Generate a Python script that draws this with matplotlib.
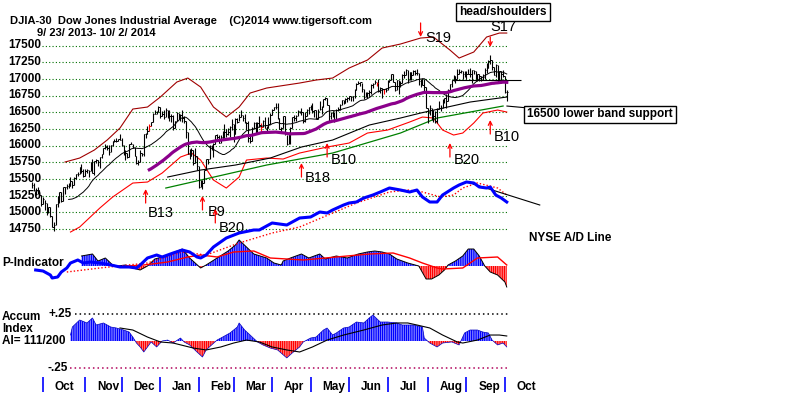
import numpy as np
import pandas as pd
import matplotlib
matplotlib.use("Agg")
import matplotlib.pyplot as plt
from matplotlib import transforms

plt.rcParams['font.family'] = ['Liberation Sans', 'DejaVu Sans']
plt.rcParams['hatch.linewidth'] = 1.0

# ---------------------------------------------------------------------
#  DATA (DJIA 9/23/2013 - 10/2/2014)
# ---------------------------------------------------------------------
holidays = ["2013-11-28", "2013-12-25", "2014-01-01", "2014-01-20", "2014-02-17",
            "2014-04-18", "2014-05-26", "2014-07-04", "2014-09-01"]

closes = [
    15401, 15334, 15273, 15328, 15258, 15130,
    15192, 15133, 14997, 15073, 14936, 14776, 14803, 15127, 15237, 15301, 15168, 15374,
    15372, 15399, 15392, 15468, 15413, 15509, 15570, 15568, 15680, 15618, 15546,
    15615, 15639, 15618, 15746, 15594, 15762, 15784, 15751, 15821, 15876, 15962, 15976,
    15967, 15900, 16010, 16065, 16073, 16073, 16097, 16086,
    16008, 15915, 15889, 15822, 16020, 16025, 15973, 15844, 15740, 15755, 15885, 15875,
    16168, 16179, 16221, 16295, 16358, 16479, 16478, 16505, 16577,
    16441, 16470, 16426, 16531, 16463, 16445, 16437, 16257, 16374, 16482, 16418, 16459,
    16415, 16374, 16198, 15880, 15838, 15929, 15739, 15849, 15699,
    15373, 15445, 15441, 15629, 15795, 15802, 15994, 15964, 16027, 16154, 16130, 16040,
    16134, 16104, 16208, 16180, 16198, 16273, 16322,
    16168, 16396, 16360, 16422, 16453, 16419, 16351, 16341, 16109, 16066, 16248, 16337,
    16223, 16332, 16303, 16276, 16368, 16268, 16264, 16323, 16458,
    16533, 16573, 16573, 16413, 16246, 16256, 16438, 16171, 16027, 16174, 16263, 16425,
    16409, 16449, 16514, 16502, 16501, 16361, 16448, 16535, 16581,
    16559, 16513, 16531, 16402, 16518, 16551, 16583, 16695, 16715, 16614, 16447, 16491,
    16511, 16374, 16533, 16543, 16606, 16676, 16634, 16699, 16717,
    16744, 16722, 16738, 16836, 16925, 16944, 16946, 16843, 16734, 16776, 16782, 16808,
    16907, 16921, 16947, 16938, 16819, 16868, 16847, 16852, 16827,
    16957, 16977, 17068, 16957, 16839, 16986, 16915, 16944, 17056, 17060, 17138, 16977,
    17100, 17052, 17114, 17087, 17084, 16961, 16983, 16912, 16881, 16563,
    16493, 16569, 16430, 16443, 16369, 16554, 16570, 16561, 16652, 16714, 16663, 16839,
    16920, 16980, 17039, 17001, 17077, 17107, 17122, 17080, 17098,
    17068, 17079, 17069, 17138, 17112, 17014, 17068, 17050, 16988, 17031, 17132, 17157,
    17266, 17280, 17173, 17056, 17211, 16946, 17113, 17071, 17043,
    16805, 16801,
]

highs = [
    15452, 15441, 15366, 15385, 15327, 15258,
    15225, 15190, 15134, 15084, 15072, 14937, 14846, 15127, 15242, 15305, 15301, 15374,
    15377, 15418, 15436, 15527, 15466, 15524, 15578, 15597, 15681, 15721, 15647,
    15653, 15651, 15631, 15748, 15797, 15764, 15791, 15783, 15822, 15877, 15965, 16030,
    16005, 16006, 16015, 16065, 16093, 16114, 16104, 16175,
    16117, 16008, 15934, 15890, 16030, 16057, 16024, 15978, 15844, 15789, 15935, 15892,
    16168, 16192, 16292, 16318, 16358, 16484, 16529, 16512, 16588,
    16573, 16519, 16533, 16562, 16529, 16530, 16480, 16453, 16374, 16497, 16482, 16479,
    16530, 16438, 16372, 16197, 15950, 15963, 15928, 15958, 15848,
    15698, 15481, 15478, 15630, 15799, 15805, 16008, 16011, 16031, 16162, 16175, 16158,
    16163, 16218, 16317, 16242, 16266, 16287, 16398,
    16321, 16406, 16408, 16475, 16534, 16452, 16472, 16350, 16369, 16161, 16274, 16349,
    16360, 16354, 16448, 16332, 16387, 16433, 16291, 16433, 16495,
    16541, 16575, 16631, 16632, 16412, 16275, 16439, 16438, 16165, 16197, 16279, 16425,
    16453, 16451, 16537, 16522, 16558, 16501, 16507, 16546, 16581,
    16601, 16632, 16531, 16530, 16546, 16661, 16596, 16700, 16735, 16711, 16613, 16497,
    16519, 16508, 16543, 16581, 16616, 16676, 16681, 16716, 16723,
    16745, 16744, 16750, 16845, 16938, 16970, 16950, 16945, 16843, 16800, 16808, 16827,
    16921, 16937, 16979, 16947, 17000, 16885, 16870, 16852, 16867,
    16984, 16989, 17074, 17067, 16956, 16990, 16985, 16961, 17075, 17112, 17145, 17138,
    17107, 17100, 17139, 17128, 17151, 17082, 17000, 17012, 17001, 16880,
    16562, 16604, 16570, 16529, 16514, 16569, 16662, 16615, 16698, 16718, 16773, 16841,
    16930, 16986, 17051, 17039, 17154, 17153, 17135, 17122, 17114,
    17112, 17152, 17161, 17138, 17138, 17111, 17073, 17068, 17050, 17070, 17167, 17236,
    17277, 17351, 17280, 17172, 17222, 17210, 17113, 17112, 17132,
    17042, 16835,
]

lows = [
    15363, 15316, 15256, 15273, 15227, 15088,
    15130, 15040, 14951, 14986, 14929, 14772, 14719, 14804, 15071, 15133, 15151, 15169,
    15274, 15353, 15364, 15387, 15357, 15413, 15491, 15543, 15567, 15585, 15524,
    15546, 15585, 15533, 15618, 15592, 15565, 15739, 15690, 15668, 15815, 15873, 15948,
    15930, 15863, 15901, 15987, 16050, 16051, 16063, 16083,
    15988, 15855, 15784, 15810, 15822, 16019, 15962, 15839, 15729, 15703, 15756, 15838,
    15840, 16117, 16179, 16222, 16295, 16358, 16477, 16466, 16504,
    16409, 16440, 16405, 16426, 16416, 16375, 16357, 16240, 16258, 16375, 16394, 16364,
    16352, 16341, 16108, 15879, 15795, 15838, 15707, 15738, 15633,
    15356, 15373, 15341, 15443, 15630, 15730, 15802, 15936, 15830, 16027, 16076, 16034,
    16039, 16100, 16103, 16133, 16161, 16128, 16232,
    16050, 16169, 16341, 16361, 16422, 16365, 16337, 16235, 16060, 16040, 16067, 16248,
    16175, 16193, 16283, 16182, 16277, 16265, 16186, 16265, 16323,
    16459, 16534, 16541, 16403, 16246, 16190, 16256, 16156, 16015, 16027, 16018, 16265,
    16366, 16373, 16450, 16487, 16460, 16331, 16353, 16449, 16473,
    16531, 16481, 16421, 16400, 16402, 16528, 16473, 16583, 16676, 16614, 16372, 16403,
    16426, 16353, 16375, 16512, 16540, 16606, 16624, 16634, 16650,
    16683, 16665, 16674, 16714, 16837, 16919, 16889, 16806, 16700, 16727, 16720, 16747,
    16779, 16865, 16917, 16892, 16809, 16782, 16714, 16779, 16800,
    16828, 16949, 16977, 16955, 16816, 16840, 16776, 16875, 16944, 17011, 17060, 16945,
    16977, 16989, 17052, 17064, 17065, 16913, 16883, 16911, 16810, 16557,
    16334, 16462, 16382, 16354, 16333, 16333, 16554, 16519, 16561, 16633, 16563, 16663,
    16839, 16875, 16975, 16941, 17001, 17077, 17094, 16995, 17033,
    16999, 17068, 17031, 16944, 17075, 17003, 16965, 16974, 16967, 16987, 17003, 17089,
    17157, 17227, 17135, 17055, 17021, 16938, 16946, 16945, 17021,
    16784, 16674,
]

red_bar_idx = [64, 125, 188, 192]

# overlay lines on the price panel: (trading-day index, price)
upper_band_idx = [18, 26, 34, 41, 48, 55, 63, 70, 79, 85, 92, 99, 106, 113, 119, 128, 146,
                  155, 164, 173, 183, 191, 201, 212, 219, 228, 233, 241, 248, 255, 259]
upper_band = [15752, 15812, 15932, 16082, 16262, 16547, 16577, 16727, 16952, 17012, 16877,
              16577, 16427, 16577, 16787, 16862, 16937, 16982, 17012, 17162, 17282, 17462,
              17522, 17612, 17627, 17432, 17312, 17402, 17627, 17687, 17687]
lower_band_idx = [21, 26, 37, 44, 55, 63, 71, 81, 87, 92, 99, 106, 113, 117, 128, 137, 146,
                  161, 173, 183, 194, 206, 213, 219, 224, 230, 235, 241, 246, 254, 259]
lower_band = [14702, 14777, 15062, 15227, 15437, 15452, 15587, 15827, 15887, 15782, 15482,
              15362, 15527, 15782, 15812, 15797, 15887, 15977, 16037, 16187, 16232, 16352,
              16427, 16412, 16232, 16157, 16187, 16337, 16487, 16532, 16502]
support_idx = [74, 92, 111, 130, 147, 164, 184, 201, 212, 239, 259]
support_line = [15527, 15632, 15707, 15812, 15977, 16082, 16307, 16412, 16487, 16652, 16727]
green_idx = [73, 128, 164, 201, 221, 257]
green_line = [15362, 15707, 15887, 16187, 16412, 16592]
neckline = (229, 267, 16980)

price_levels = [17500, 17250, 17000, 16750, 16500, 16250, 16000, 15750, 15500, 15250, 15000, 14750]

sig_names = ["B13", "B9", "B20", "B18", "B10", "B20", "B10", "S19", "S17"]
sig_idx = [62, 93, 100, 147, 161, 228, 250, 212, 250]
sig_price = [15347, 15243, 15048, 15737, 16037, 16037, 16382, 17628, 17478]

# NYSE A/D line and its moving average (relative units)
ad_idx = [2, 6, 10, 11, 14, 16, 19, 21, 25, 28, 32, 37, 43, 48, 53, 57, 59, 63, 68, 71, 77,
          82, 86, 90, 92, 95, 99, 106, 113, 121, 124, 131, 139, 142, 146, 152, 157, 161, 164,
          170, 173, 177, 181, 186, 190, 195, 201, 206, 210, 213, 217, 221, 224, 230, 233,
          237, 241, 244, 248, 250, 253, 256, 259]
ad_line = [4, 2, -6, -12, -10, 0, 8, 18, 24, 18, 20, 18, 14, 10, 10, 8, 14, 28, 34, 30, 38,
           44, 40, 30, 28, 34, 50, 68, 78, 84, 84, 98, 94, 100, 108, 110, 120, 118, 124,
           134, 138, 140, 148, 154, 160, 168, 164, 160, 164, 150, 140, 140, 154, 168, 174,
           180, 178, 170, 168, 170, 154, 148, 140]
ad_ma_idx = [19, 37, 63, 82, 95, 113, 131, 146, 159, 177, 195, 205, 213, 223, 230, 235, 243, 254, 259]
ad_ma = [0, 8, 18, 40, 34, 58, 78, 90, 110, 138, 160, 164, 160, 150, 154, 168, 178, 168, 154]
ad_trend = ([239, 277], [178, 134])

# P-Indicator and its moving average
pind_idx = [27, 30, 33, 36, 40, 44, 47, 51, 55, 59, 63, 67, 73, 78, 82, 86, 92, 95, 101, 107,
            111, 113, 117, 121, 128, 132, 136, 137, 141, 147, 151, 157, 160, 166, 172, 178,
            183, 187, 191, 195, 199, 205, 211, 215, 218, 222, 225, 227, 231, 235, 238, 241,
            244, 247, 250, 254, 258, 259]
pind = [120, 132, 144, 60, 96, 12, 0, 12, -24, -48, 0, 84, 120, 168, 204, 96, -24, 12, 96,
        180, 252, 312, 228, 144, 96, 36, 12, 60, 96, 144, 96, 144, 84, 120, 96, 144, 168, 180,
        168, 144, 84, 36, 0, -156, -156, -108, -48, 12, 60, 120, 204, 204, 120, 0, -72, -108,
        -192, -252]
pind_ma_idx = [52, 61, 74, 85, 92, 101, 110, 121, 130, 148, 166, 184, 197, 206, 213, 221,
               224, 235, 243, 254, 259]
pind_ma = [0, 12, 48, 108, 132, 108, 168, 180, 96, 72, 108, 144, 156, 96, 36, -24, -36, -24,
           96, 108, 12]

# Accumulation Index and its moving average
ai_idx = [21, 22, 26, 30, 33, 35, 39, 43, 46, 50, 53, 55, 57, 59, 61, 63, 65, 68, 71, 74, 77,
          81, 83, 86, 90, 93, 95, 98, 101, 104, 108, 112, 113, 116, 119, 123, 126, 130, 134,
          139, 142, 146, 148, 152, 155, 159, 161, 164, 166, 170, 173, 177, 181, 184, 186, 190,
          194, 199, 202, 208, 213, 214, 217, 221, 224, 229, 233, 236, 239, 243, 246, 249, 251,
          254, 257, 259]
ai = [0.056, 0.131, 0.197, 0.169, 0.216, 0.150, 0.169, 0.131, 0.122, 0.103, 0.084, 0.037,
      -0.019, -0.056, -0.103, -0.056, -0.009, -0.056, 0.0, 0.009, -0.019, 0.028, -0.009,
      -0.037, -0.103, -0.150, -0.084, -0.037, 0.009, 0.037, 0.075, 0.131, 0.169, 0.103, 0.056,
      -0.009, -0.037, -0.066, -0.084, -0.159, -0.112, -0.056, -0.009, 0.028, 0.037, 0.103,
      0.122, 0.056, 0.075, 0.122, 0.131, 0.178, 0.169, 0.216, 0.244, 0.178, 0.178, 0.169,
      0.150, 0.150, 0.131, 0.028, -0.019, -0.056, -0.019, -0.009, -0.037, 0.075, 0.103, 0.103,
      0.084, 0.075, 0.009, -0.037, -0.019, -0.056]
ai_ma_idx = [48, 55, 63, 70, 77, 88, 95, 103, 110, 117, 124, 131, 139, 146, 153, 161, 170,
             181, 191, 199, 205, 210, 217, 224, 232, 235, 243, 250, 255, 259]
ai_ma = [0.122, 0.103, 0.037, -0.009, -0.019, -0.066, -0.084, -0.056, -0.019, 0.009, -0.009,
         -0.056, -0.084, -0.103, -0.056, 0.009, 0.056, 0.103, 0.150, 0.169, 0.169, 0.150,
         0.122, 0.056, -0.009, -0.019, 0.009, 0.056, 0.056, 0.047]

# ---------------------------------------------------------------------
#  LAYOUT (pixel geometry of the 800x395 TigerSoft image)
# ---------------------------------------------------------------------
W, H = 800, 395
PX_DAY = 1.833            # pixels per trading day
X_OCT1 = 43.0             # pixel of first October trading day (index 6)
IDX_L = 6 - X_OCT1 / PX_DAY
IDX_R = IDX_L + W / PX_DAY


def idx_at(px):
    return IDX_L + px / PX_DAY


def yl(top_val, per_px):
    # value at pixel row 0 and value change per pixel -> ylim
    return (top_val - H * per_px, top_val)


dates = pd.bdate_range("2013-09-23", "2014-10-02", freq="C", holidays=holidays)
n = len(dates)
assert n == len(closes) == len(highs) == len(lows)
days = np.arange(n)
month_starts = [i for i in range(1, n) if dates[i].month != dates[i - 1].month]

fig = plt.figure(figsize=(8, 3.95), dpi=100)
fig.patch.set_facecolor("white")


def overlay(ylim):
    a = fig.add_axes([0, 0, 1, 1])
    a.set_xlim(IDX_L, IDX_R)
    a.set_ylim(*ylim)
    a.axis("off")
    a.patch.set_alpha(0)
    return a


ax = overlay(yl(17500 + 45.5 * 15, 15))              # price, 15 pts per pixel
ax_pi = overlay(yl(266 * 12, 12))                     # P-Indicator
ax_ai = overlay(yl(341 / 106.67, 1 / 106.67))         # Accum Index
ax_ad = overlay(yl(272 * 2, 2))                       # A/D line

bold = dict(fontweight="bold", fontsize=8.5, color="black")

# ---- price panel ----
ax.hlines(price_levels, idx_at(42), idx_at(508), colors="#007000",
          linestyles=(0, (1, 2)), lw=0.8)
for lvl in price_levels:
    ax.text(idx_at(41), lvl, str(lvl), ha="right", va="center", **bold)

bar_colors = ["red" if i in red_bar_idx else "black" for i in days]
ax.vlines(days, lows, highs, colors=bar_colors, lw=0.8, zorder=3)
ax.hlines(closes, days, days + 0.8, colors=bar_colors, lw=0.7, zorder=3)

close_s = pd.Series(closes, dtype=float)
ax.plot(days, close_s.rolling(21).mean(), color="black", lw=0.7, zorder=4)
ax.plot(days, close_s.rolling(65).mean(), color="#8b008b", lw=2.3, zorder=4)
ax.plot(upper_band_idx, upper_band, color="#a00000", lw=0.8)
ax.plot(lower_band_idx, lower_band, color="#ff0000", lw=0.8)
ax.plot(support_idx, support_line, color="black", lw=0.8)
ax.plot(green_idx, green_line, color="#008000", lw=0.9)
ax.hlines(neckline[2], neckline[0], neckline[1], colors="black", lw=0.8)

# buy / sell signal arrows
label_off = {0: (15, 24), 1: (14, 16), 2: (17, 19), 3: (16, 15), 4: (17, 17),
             5: (17, 17), 6: (17, 17), 7: (18, 1), 8: (13, -20)}
for k, (name, i, p) in enumerate(zip(sig_names, sig_idx, sig_price)):
    up = name.startswith("B")
    length = 14 if up else (14 if name == "S19" else 10)
    tail = -length if up else length
    ax.annotate("", xy=(i, p), xytext=(0, tail * 0.72), textcoords="offset points",
                arrowprops=dict(arrowstyle="->", color="red", lw=0.9,
                                shrinkA=0, shrinkB=0, mutation_scale=7))
    dx, dy = label_off[k]
    ax.annotate(name, xy=(i, p), xytext=(dx * 0.72, -dy * 0.72), textcoords="offset points",
                ha="center", va="center", fontsize=10.5, color="black")

# ---- A/D line ----
ax_ad.plot(ad_ma_idx, ad_ma, color="red", lw=1.0, linestyle=(0, (1, 1.5)))
ax_ad.plot(ad_trend[0], ad_trend[1], color="black", lw=0.8)
ax_ad.plot(ad_idx, ad_line, color="#0000ff", lw=2.2, solid_joinstyle="round")

# ---- P-Indicator ----
pi_x = np.array(pind_idx, dtype=float)
pi_v = np.array(pind, dtype=float)
ax_pi.fill_between(pi_x, 0, pi_v, where=pi_v >= 0, interpolate=True, facecolor="none",
                   edgecolor="#0000ff", hatch="|||||||||", lw=0)
ax_pi.fill_between(pi_x, 0, pi_v, where=pi_v <= 0, interpolate=True, facecolor="none",
                   edgecolor="#ff0000", hatch="|||||||||", lw=0)
ax_pi.plot(pi_x, pi_v, color="black", lw=0.7)
ax_pi.plot(pind_ma_idx, pind_ma, color="red", lw=1.0)

# ---- Accumulation Index ----
ai_x = np.array(ai_idx, dtype=float)
ai_v = np.array(ai, dtype=float)
ax_ai.hlines(0.25, idx_at(75), idx_at(510), colors="black", linestyles=(0, (1, 2)), lw=1.1)
ax_ai.hlines(-0.25, idx_at(70), idx_at(510), colors="#b0005a", linestyles=(0, (1, 2)), lw=1.1)
ax_ai.fill_between(ai_x, 0, ai_v, where=ai_v >= 0, interpolate=True, facecolor="none",
                   edgecolor="#0000ff", hatch="|||||||||", lw=0)
ax_ai.fill_between(ai_x, 0, ai_v, where=ai_v <= 0, interpolate=True, facecolor="none",
                   edgecolor="#ff0000", hatch="|||||||||", lw=0)
ax_ai.plot(ai_x, ai_v, color="#0000c0", lw=0.5)
ax_ai.plot(ai_ma_idx, ai_ma, color="black", lw=0.8)
ax_ai.text(idx_at(72), 0.25, "+.25", ha="right", va="center", **bold)
ax_ai.text(idx_at(68), -0.25, "-.25", ha="right", va="center", **bold)

# ---- month axis ----
fig_x = transforms.blended_transform_factory(ax.transData, fig.transFigure)
ax.vlines(month_starts, 1 - 392 / H, 1 - 377 / H, colors="#0000ff", lw=1.2,
          transform=fig_x, clip_on=False)
for i in month_starts:
    ax.annotate(dates[i].strftime("%b"), xy=(i, 1 - 387 / H),
                xycoords=("data", "figure fraction"), xytext=(8.5, 0),
                textcoords="offset points", ha="left", va="center", **bold)


# ---- texts ----
def ftext(px, py, s, **kw):
    fig.text(px / W, 1 - py / H, s, **kw)


title_kw = dict(bold, fontsize=8.0)
ftext(10, 21, "DJIA-30  Dow Jones Industrial Average    (C)2014 www.tigersoft.com",
      ha="left", va="center", **title_kw)
ftext(37, 33, "9/ 23/ 2013- 10/ 2/ 2014", ha="left", va="center", **title_kw)
ftext(503, 12, "head/shoulders", ha="center", va="center",
      bbox=dict(boxstyle="square,pad=0.25", fc="white", ec="black", lw=1.0), **bold)
ax.annotate("16500 lower band support", xy=(n - 1, green_line[-1]),
            xytext=(600 / W, 1 - 114.5 / H), textcoords="figure fraction",
            ha="center", va="center",
            bbox=dict(boxstyle="square,pad=0.25", fc="white", ec="black", lw=1.0),
            arrowprops=dict(arrowstyle="-", color="black", lw=0.8, shrinkA=0, shrinkB=0),
            **bold)
ftext(570, 238, "NYSE A/D Line", ha="center", va="center", **bold)
ftext(2, 263, "P-Indicator", ha="left", va="center", **bold)
ftext(2, 317, "Accum", ha="left", va="center", **bold)
ftext(2, 329, "Index", ha="left", va="center", **bold)
ftext(2, 341, "AI= 111/200", ha="left", va="center", **bold)

fig.savefig("out.png", dpi=100, facecolor="white")
